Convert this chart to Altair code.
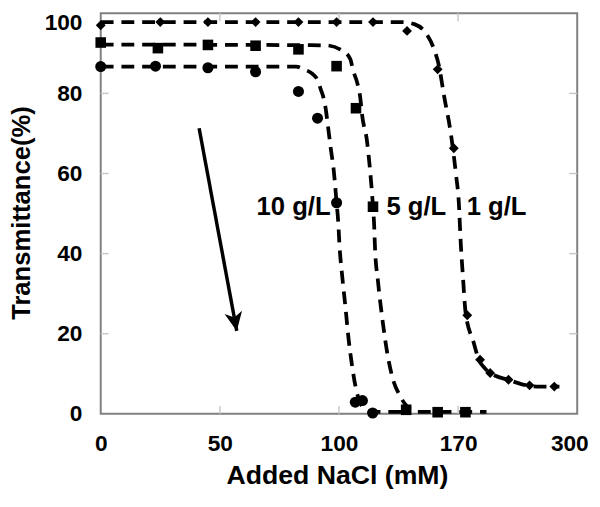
import altair as alt
import pandas as pd

# ---------------- data ----------------
x_ticks = [0, 50, 100, 170, 300]
y_ticks = [0, 20, 40, 60, 80, 100]

# measured points
nacl_1 = [0, 25, 45, 65, 83, 99, 120, 140, 158, 167.5, 180, 194, 205, 225, 248, 275]
trans_1 = [97.0, 97.8, 97.8, 97.8, 97.8, 97.8, 97.8, 95.6, 86.0, 66.3, 24.6, 13.5, 10.2, 8.5, 7.1, 6.8]

nacl_5 = [0, 24, 45, 65, 83, 99, 110, 120, 139.5, 158, 178]
trans_5 = [92.7, 91.3, 92.1, 91.9, 91.0, 86.8, 76.3, 51.7, 1.0, 0.4, 0.4]

nacl_10 = [0, 23, 45, 65, 83, 91, 99, 109.6, 113.8, 119.8]
trans_10 = [86.7, 86.8, 86.4, 85.4, 80.5, 73.8, 52.7, 2.9, 3.3, 0.2]

# fitted (dashed) curves
curve1_x = [0, 137.4, 144.3, 151.3, 155.9, 158.8, 161.7, 165.8, 168.7, 170.8, 173.0, 175.1,
            178.3, 187.0, 192.3, 199.9, 210.6, 224.6, 240.8, 259.1, 280.6]
curve1_y = [97.8, 97.8, 97.3, 94.9, 91.0, 86.8, 79.5, 69.8, 60.0, 52.7, 42.2, 34.9,
            25.1, 17.8, 13.7, 11.2, 9.5, 8.5, 7.3, 6.8, 6.8]

curve5_x = [0, 94.4, 102.6, 106.7, 108.4, 110.7, 112.5, 113.6, 116.5, 118.3, 120.0, 120.6,
            121.2, 122.9, 125.8, 128.7, 131.6, 135.7, 139.7, 146.1, 201]
curve5_y = [92.2, 92.0, 90.5, 88.5, 85.6, 82.7, 79.0, 74.6, 68.0, 60.7, 51.7, 47.8,
            41.2, 33.2, 22.7, 14.4, 8.8, 4.6, 2.0, 0.5, 0.5]

curve10_x = [0, 82.0, 85.3, 89.0, 91.1, 92.3, 93.6, 94.4, 95.2, 96.5, 97.8, 99.0, 99.7,
             100.3, 101.8, 103.8, 105.7, 107.7, 109.6, 111.5, 115.4, 119.3, 139.7]
curve10_y = [86.7, 86.7, 86.0, 84.8, 83.2, 81.1, 78.7, 76.3, 72.7, 66.5, 60.8, 52.7, 47.8,
             42.1, 34.8, 26.7, 18.5, 12.0, 7.1, 3.9, 1.0, 0.5, 0.5]

series_names = ["1 g/L", "5 g/L", "10 g/L"]

# arrow (start, tip) in data units
arrow_x = [41.3, 57.1]
arrow_y = [71.3, 20.7]

# annotation labels
label_text = ["10 g/L", "5 g/L", "1 g/L"]
label_x = [96.5, 127.9, 179.4]
label_y = [51.5, 51.5, 51.5]

# ---------------- build tables ----------------
curves = pd.concat([
    pd.DataFrame({"nacl": curve1_x, "trans": curve1_y, "series": series_names[0]}),
    pd.DataFrame({"nacl": curve5_x, "trans": curve5_y, "series": series_names[1]}),
    pd.DataFrame({"nacl": curve10_x, "trans": curve10_y, "series": series_names[2]}),
])
pts1 = pd.DataFrame({"nacl": nacl_1, "trans": trans_1})
pts5 = pd.DataFrame({"nacl": nacl_5, "trans": trans_5})
pts10 = pd.DataFrame({"nacl": nacl_10, "trans": trans_10})
arrow = pd.DataFrame({"nacl": arrow_x, "trans": arrow_y})
tip = arrow.iloc[[1]]
labels = pd.DataFrame({"label": label_text, "nacl": label_x, "trans": label_y})

W, H = 483, 406
FONT = "Liberation Sans, Arial, sans-serif"

xscale = alt.Scale(domain=x_ticks, range=[0, W / 4, W / 2, 3 * W / 4, W])
yscale = alt.Scale(domain=[0, 100])

xaxis = alt.Axis(
    values=x_ticks, format="d", grid=False, ticks=False, tickSize=0, domain=False,
    labelFont=FONT, labelFontSize=23, labelFontWeight="bold", labelColor="black",
    labelPadding=19, labelBaseline="top", labelFlush=False, labelOverlap=False,
    labelOffset={"condition": {"test": "datum.value == 300", "value": -8}, "value": 0},
    title="Added NaCl (mM)", titleFont=FONT, titleFontSize=27, titleFontWeight="bold",
    titleColor="black", titleX=W / 2 - 2, titleY=71, titleBaseline="alphabetic",
    titleAlign="center",
)
yaxis = alt.Axis(
    values=y_ticks, format="d", grid=False, ticks=False, tickSize=0, domain=False,
    labelFont=FONT, labelFontSize=23, labelFontWeight="bold", labelColor="black",
    labelPadding=19, labelFlush=False, labelOverlap=False,
    labelOffset={"condition": {"test": "datum.value == 100", "value": 9}, "value": 0},
    title="Transmittance(%)", titleFont=FONT, titleFontSize=26, titleFontWeight="bold",
    titleColor="black", titleAngle=270, titleX=-72.5, titleY=H / 2 - 1,
    titleBaseline="alphabetic", titleAlign="center",
)

X = alt.X("nacl:Q", scale=xscale, axis=xaxis)
Y = alt.Y("trans:Q", scale=yscale, axis=yaxis)

tick_col = "#c8c8c8"
ytick_df = pd.DataFrame({"trans": y_ticks[1:-1]})
xtick_df = pd.DataFrame({"nacl": x_ticks[1:-1]})

left_ticks = alt.Chart(ytick_df).mark_rule(color=tick_col, strokeWidth=1.5).encode(
    y=Y, x=alt.value(0), x2=alt.value(8))
right_ticks = alt.Chart(ytick_df).mark_rule(color=tick_col, strokeWidth=1.5).encode(
    y=Y, x=alt.value(W - 8), x2=alt.value(W))
top_ticks = alt.Chart(xtick_df).mark_rule(color=tick_col, strokeWidth=1.5).encode(
    x=X, y=alt.value(0), y2=alt.value(8))
bottom_ticks = alt.Chart(xtick_df).mark_rule(color=tick_col, strokeWidth=1.5).encode(
    x=X, y=alt.value(H - 8), y2=alt.value(H))

lines = alt.Chart(curves).mark_line(
    color="black", strokeWidth=3.8, strokeDash=[13, 8], interpolate="monotone"
).encode(x=X, y=Y, detail="series:N")

m1 = alt.Chart(pts1).mark_point(shape="diamond", filled=True, size=100, color="black",
                                opacity=1, strokeWidth=0).encode(x=X, y=Y)
m5 = alt.Chart(pts5).mark_point(shape="square", filled=True, size=115, color="black",
                                opacity=1, strokeWidth=0).encode(x=X, y=Y)
m10 = alt.Chart(pts10).mark_point(shape="circle", filled=True, size=125, color="black",
                                  opacity=1, strokeWidth=0).encode(x=X, y=Y)

shaft = alt.Chart(arrow).mark_line(color="black", strokeWidth=3.5, strokeCap="butt").encode(
    x=X, y=Y)
head = alt.Chart(tip).mark_point(
    shape="M0,0 L-0.75,-1.6 L0,-1.15 L0.75,-1.6 Z", filled=True, size=576,
    angle=349.5, color="black", opacity=1, strokeWidth=0,
).encode(x=X, y=Y)

lab_right = alt.Chart(labels.iloc[[0]]).mark_text(
    align="right", baseline="middle", font=FONT, fontSize=26, fontWeight="bold", color="black"
).encode(x=X, y=Y, text="label:N")
lab_left = alt.Chart(labels.iloc[1:]).mark_text(
    align="left", baseline="middle", font=FONT, fontSize=26, fontWeight="bold", color="black"
).encode(x=X, y=Y, text="label:N")

chart = alt.layer(
    left_ticks, right_ticks, top_ticks, bottom_ticks,
    lines, m1, m5, m10, shaft, head, lab_right, lab_left,
).properties(
    width=W, height=H,
    padding={"left": 94, "top": 2, "right": 15, "bottom": 83},
    autosize=alt.AutoSizeParams(type="none"),
    background="white",
).configure_view(stroke="#808080", strokeWidth=2)

chart.save("out.html", embed_options={"renderer": "svg", "actions": False})
